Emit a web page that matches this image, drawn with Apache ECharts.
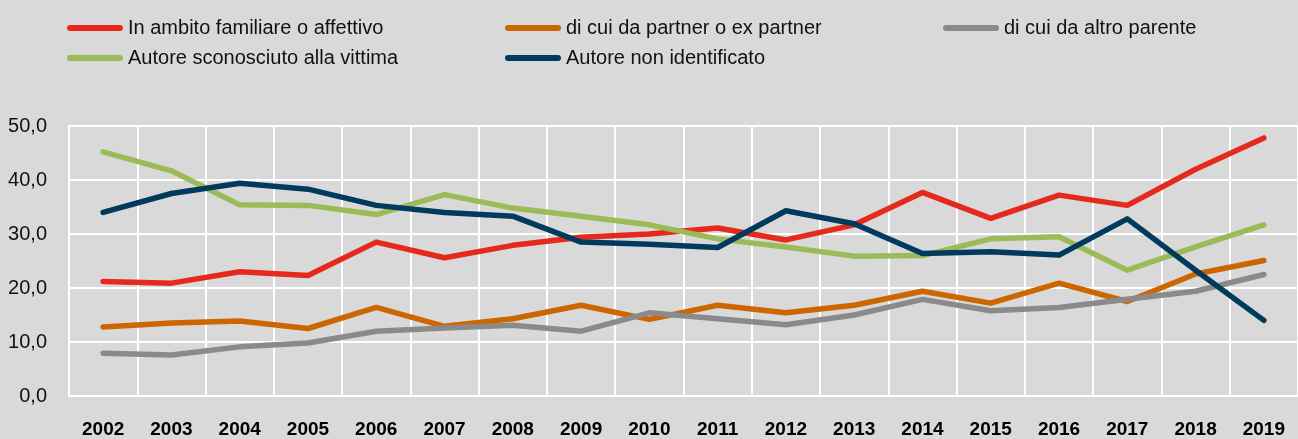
<!DOCTYPE html>
<html>
<head>
<meta charset="utf-8">
<script src="https://cdn.jsdelivr.net/npm/echarts@6/dist/echarts.min.js"></script>
<style>
  html, body { margin: 0; padding: 0; background: #d9d9d9; }
  #chart { width: 1298px; height: 439px; }
</style>
</head>
<body>
<div id="chart"></div>
<script>
  // anni
  const anni = ['2002', '2003', '2004', '2005', '2006', '2007', '2008', '2009', '2010',
    '2011', '2012', '2013', '2014', '2015', '2016', '2017', '2018', '2019'];

  const familiare = [21.2, 20.9, 23.0, 22.3, 28.5, 25.6, 27.9, 29.4, 30.0, 31.1, 28.9, 31.7, 37.7, 32.9, 37.2, 35.3, 42.0, 47.8];
  const partner = [12.8, 13.5, 13.9, 12.5, 16.4, 12.9, 14.3, 16.8, 14.2, 16.8, 15.4, 16.8, 19.4, 17.2, 20.9, 17.5, 22.6, 25.1];
  const parente = [7.9, 7.6, 9.1, 9.8, 12.0, 12.6, 13.1, 12.0, 15.4, 14.3, 13.2, 15.0, 17.9, 15.8, 16.4, 17.9, 19.4, 22.5];
  const sconosciuto = [45.2, 41.7, 35.4, 35.3, 33.6, 37.3, 34.8, 33.3, 31.7, 29.1, 27.6, 25.9, 26.0, 29.1, 29.5, 23.3, 27.6, 31.7];
  const nonIdentificato = [34.0, 37.5, 39.4, 38.3, 35.3, 34.0, 33.3, 28.5, 28.1, 27.5, 34.3, 31.9, 26.4, 26.7, 26.1, 32.8, 23.3, 14.0];

  const yTicks = [0, 10, 20, 30, 40, 50];

  const nomi = ['In ambito familiare o affettivo', 'di cui da partner o ex partner', 'di cui da altro parente',
    'Autore sconosciuto alla vittima', 'Autore non identificato'];
  const colori = ['#e5291c', '#cc6600', '#8a8a8a', '#9bbb59', '#003a5c'];
  const valori = [familiare, partner, parente, sconosciuto, nonIdentificato];

  const font = "'Liberation Sans', Arial, sans-serif";
  const pill = 'path://M3,0 L53,0 A3,3 0 0 1 53,6 L3,6 A3,3 0 0 1 3,0 Z';

  // posizione legende (colonna, riga)
  const legendPos = [[67, 18], [505, 18], [943, 18], [67, 48], [505, 48]];

  const legends = nomi.map((n, i) => ({
    data: [n],
    left: legendPos[i][0],
    top: legendPos[i][1],
    padding: 0,
    icon: pill,
    itemWidth: 56,
    itemHeight: 6,
    textStyle: {fontFamily: font, fontSize: 20, color: '#111'}
  }));

  const series = nomi.map((n, i) => ({
    name: n,
    type: 'line',
    data: valori[i],
    color: colori[i],
    symbol: 'none',
    smooth: false,
    lineStyle: {width: 5.5, cap: 'round', join: 'round'},
    z: 2 + i
  }));

  const option = {
    backgroundColor: '#d9d9d9',
    animation: false,
    legend: legends,
    grid: {left: 69, top: 126, width: 1231, height: 273},
    xAxis: {
      type: 'category',
      data: anni,
      boundaryGap: true,
      axisLine: {show: true, lineStyle: {color: '#ffffff', width: 2}},
      axisTick: {show: false},
      splitLine: {show: true, interval: 0, lineStyle: {color: '#ffffff', width: 2}},
      axisLabel: {interval: 0, margin: 24, fontFamily: font, fontSize: 19, fontWeight: 'bold', color: '#000'}
    },
    yAxis: {
      type: 'value',
      min: yTicks[0],
      max: yTicks[yTicks.length - 1],
      interval: 10,
      axisLine: {show: true, lineStyle: {color: '#ffffff', width: 2}},
      axisTick: {show: false},
      splitLine: {show: true, lineStyle: {color: '#ffffff', width: 2}},
      axisLabel: {
        margin: 22,
        fontFamily: font,
        fontSize: 20,
        color: '#111',
        formatter: v => v.toFixed(1).replace('.', ',')
      }
    },
    series: series
  };

  const chart = echarts.init(document.getElementById('chart'));
  chart.setOption(option);
</script>
</body>
</html>
